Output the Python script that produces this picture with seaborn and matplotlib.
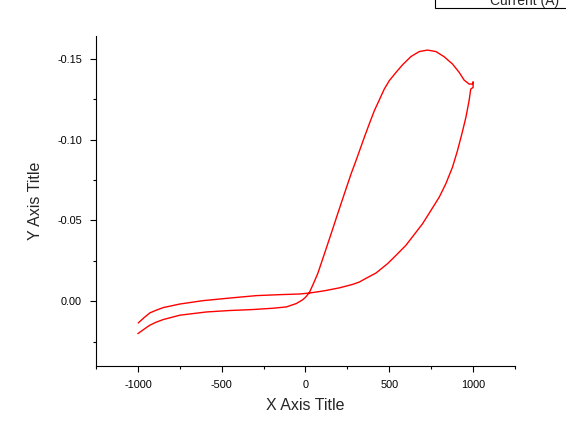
import matplotlib
matplotlib.use('Agg')
import matplotlib.pyplot as plt
import matplotlib.ticker as mticker
from matplotlib.patches import Rectangle
import seaborn as sns
import pandas as pd

# potential sweep, forward branch (-1000 -> 1000) then return branch (1000 -> -1000)
potential = [-1000, -964, -929, -893, -849, -750, -591, -452, -314, -195, -115, -55,
             -16, 3, 24, 48, 73, 113, 153, 192, 232, 272, 305, 351, 381, 411, 440,
             470, 500, 540, 579, 629, 679, 728, 778, 827, 877, 917, 946, 976, 996,
             1000, 1000,
             986, 976, 957, 933, 907, 877, 837, 798, 748, 698, 649, 599, 540, 490,
             421, 361, 321, 280, 202, 113, 24, -36, -155, -293, -452, -611, -750,
             -849, -893, -929, -964, -998]
current = [0.0200, 0.0173, 0.0148, 0.0130, 0.0113, 0.0086, 0.0066, 0.0057, 0.0051,
           0.0043, 0.0035, 0.0014, -0.0010, -0.0028, -0.0056, -0.0111, -0.0171,
           -0.0294, -0.0418, -0.0541, -0.0665, -0.0788, -0.0880, -0.1014, -0.1098,
           -0.1179, -0.1244, -0.1312, -0.1364, -0.1415, -0.1462, -0.1513, -0.1544,
           -0.1553, -0.1544, -0.1512, -0.1467, -0.1415, -0.1368, -0.1343, -0.1343,
           -0.1357, -0.1322,
           -0.1312, -0.1240, -0.1137, -0.1035, -0.0932, -0.0829, -0.0726, -0.0644,
           -0.0561, -0.0479, -0.0413, -0.0346, -0.0284, -0.0233, -0.0175, -0.0142,
           -0.0119, -0.0104, -0.0083, -0.0065, -0.0051, -0.0045, -0.0041, -0.0035,
           -0.0020, -0.0004, 0.0017, 0.0039, 0.0056, 0.0072, 0.0102, 0.0134]

x_ticks = [-1000, -500, 0, 500, 1000]
y_ticks = [-0.15, -0.10, -0.05, 0.00]
legend_label = 'Current (A)'

df = pd.DataFrame({'Potential': potential, 'Current': current})

sns.set_style('ticks')
plt.rcParams['font.family'] = ['Liberation Sans', 'DejaVu Sans']
plt.rcParams['axes.unicode_minus'] = False

fig = plt.figure(figsize=(5.66, 4.37), dpi=100)
ax = fig.add_axes([0.1696, 0.1625, 0.9099 - 0.1696, 0.9176 - 0.1625])

sns.lineplot(data=df, x='Potential', y='Current', sort=False, estimator=None,
             color='red', linewidth=1.0, ax=ax)

ax.set_xlim(-1250, 1250)
ax.set_ylim(0.040, -0.164)
ax.set_xticks(x_ticks)
ax.set_yticks(y_ticks)
ax.xaxis.set_minor_locator(mticker.MultipleLocator(250))
ax.yaxis.set_minor_locator(mticker.MultipleLocator(0.025))
ax.xaxis.set_major_formatter(mticker.FormatStrFormatter('%d'))
ax.yaxis.set_major_formatter(mticker.FormatStrFormatter('%.2f'))

ax.tick_params(which='major', direction='out', length=4.5, width=0.8,
               labelsize=7.8, pad=5.5, color='black', labelcolor='black')
ax.tick_params(which='minor', direction='out', length=2.5, width=0.8, color='black')
for side in ['top', 'right']:
    ax.spines[side].set_visible(False)
for side in ['left', 'bottom']:
    ax.spines[side].set_linewidth(0.8)
    ax.spines[side].set_color('black')

ax.set_xlabel('X Axis Title', fontsize=11.5, labelpad=6)
ax.set_ylabel('Y Axis Title', fontsize=11.5, labelpad=10)

# legend box, cut off by the top edge of the figure
fig.patches.append(Rectangle((435, 437 - 8), 140, 30, transform=None,
                             facecolor='white', edgecolor='black', linewidth=0.8))
fig.text(559 / 566, 1 - 5 / 437, legend_label, ha='right', va='baseline',
         fontsize=10)

fig.savefig('out.png', dpi=100)
